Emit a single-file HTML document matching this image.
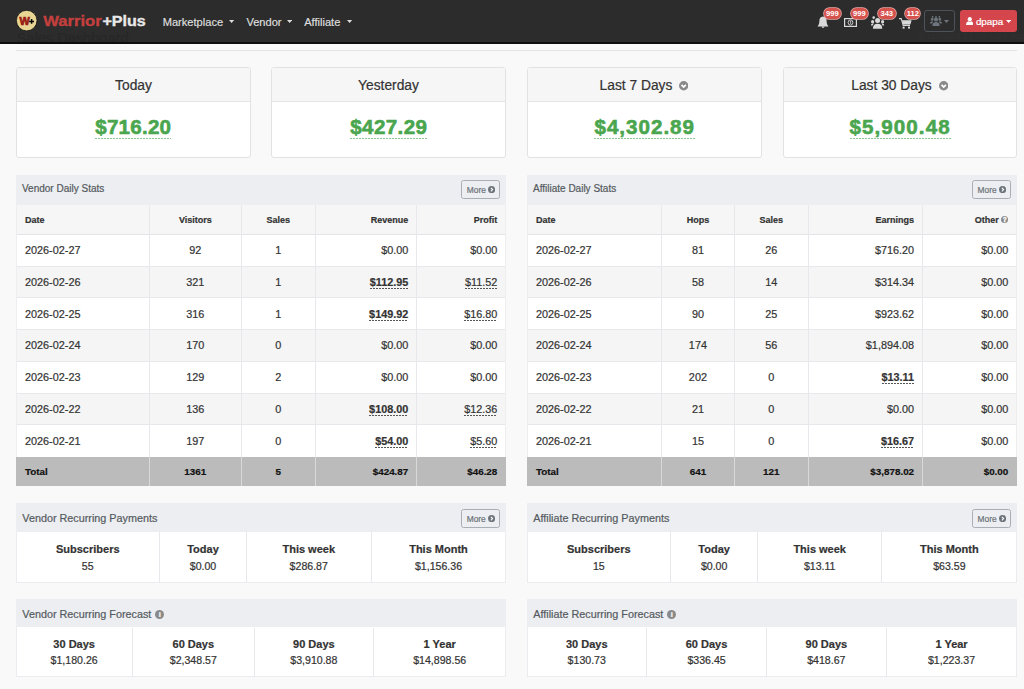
<!DOCTYPE html><html><head><meta charset="utf-8"><style>
*{margin:0;padding:0}
html,body{width:1024px;height:689px;overflow:hidden;background:#f9f9f9;-webkit-font-smoothing:antialiased;font-family:"Liberation Sans",sans-serif;position:relative}
.r{position:absolute;display:block}
.t{position:absolute;white-space:nowrap;-webkit-text-stroke:0.2px currentColor}
.amt{background:repeating-linear-gradient(90deg,#8cc78f 0 2px,transparent 2px 3px) left bottom/100% 1px no-repeat;padding-bottom:1.5px;-webkit-text-stroke:0.6px #4aa64e}
.u{background:repeating-linear-gradient(90deg,#555 0 2px,transparent 2px 3px) left bottom/100% 1px no-repeat;padding-bottom:1px}
.q{display:inline-block;width:7px;height:7px;border-radius:50%;background:#8a8a8a;vertical-align:0px;position:relative}
.q::after{content:"?";position:absolute;left:0;top:0.3px;width:7px;line-height:7px;font-size:6.5px;color:#fff;text-align:center;font-weight:700;-webkit-text-stroke:0.3px #fff}
.info{display:inline-block;width:9px;height:9px;border-radius:50%;background:#8a8a8a;vertical-align:-1px;position:relative;margin-left:1px}
.info::after{content:"i";position:absolute;left:0;top:0;width:9px;line-height:9px;font-size:7.5px;color:#fff;text-align:center;font-weight:700}
</style></head><body><div class="r" style="left:0.00px;top:0.00px;width:1024.00px;height:42.00px;background:#2c2c2c;"></div>
<div class="r" style="left:0.00px;top:42.00px;width:1024.00px;height:2.00px;background:#0e0e0e;"></div>
<div class="r" style="left:0;top:0;width:1024px;height:42px;overflow:hidden">
<div class="t" style="left:16.60px;top:30.64px;font-size:14.6px;line-height:14.6px;font-weight:400;color:#272727;">Sales Dashboard</div>
</div>
<svg class="r" style="left:14px;top:8px" width="26" height="26" viewBox="0 0 26 26"><circle cx="12.7" cy="12.6" r="10.3" fill="#e8d594" stroke="#111" stroke-width="0.8"/><text x="5.6" y="16.7" font-family="Liberation Sans" font-weight="700" font-size="10.6" fill="#9a1a14" stroke="#9a1a14" stroke-width="0.7" textLength="10.2" lengthAdjust="spacingAndGlyphs">W</text><path d="M15.2 13.4h4.8M17.6 11.1v4.7" stroke="#000" stroke-width="1.5"/></svg>
<svg class="r" style="left:43px;top:10px" width="106" height="20" viewBox="0 0 106 20"><text x="0.3" y="15.9" font-family="Liberation Sans" font-weight="700" font-size="14.6" fill="#c4403e" stroke="#c4403e" stroke-width="0.35" textLength="58.4" lengthAdjust="spacingAndGlyphs">Warrior</text><text x="59.4" y="15.9" font-family="Liberation Sans" font-weight="700" font-size="14.6" fill="#e8e8e8" stroke="#e8e8e8" stroke-width="0.35" textLength="43.4" lengthAdjust="spacingAndGlyphs">+Plus</text></svg>
<div class="t" style="left:162.70px;top:16.60px;font-size:11.1px;line-height:11.1px;font-weight:400;color:#dddddd;">Marketplace</div>
<svg class="r" style="left:229.40px;top:19.6px" width="5.2" height="3" viewBox="0 0 5.2 3"><path d="M0 0h5.2L2.6 3z" fill="#dddddd"/></svg>
<div class="t" style="left:246.40px;top:16.60px;font-size:11.1px;line-height:11.1px;font-weight:400;color:#dddddd;">Vendor</div>
<svg class="r" style="left:286.90px;top:19.6px" width="5.2" height="3" viewBox="0 0 5.2 3"><path d="M0 0h5.2L2.6 3z" fill="#dddddd"/></svg>
<div class="t" style="left:304.20px;top:16.60px;font-size:11.1px;line-height:11.1px;font-weight:400;color:#dddddd;">Affiliate</div>
<svg class="r" style="left:347.40px;top:19.6px" width="5.2" height="3" viewBox="0 0 5.2 3"><path d="M0 0h5.2L2.6 3z" fill="#dddddd"/></svg>
<svg class="r" style="left:817px;top:16px" width="12" height="13" viewBox="0 0 12 13"><path d="M6 0.5c-2.6 0-3.6 2.2-3.6 4.3 0 2.5-0.6 4-1.9 5.6h11c-1.3-1.6-1.9-3.1-1.9-5.6 0-2.1-1-4.3-3.6-4.3z" fill="#d9d9d9"/><path d="M4.6 10.6a1.4 1.4 0 0 0 2.8 0z" fill="#d9d9d9"/></svg>
<svg class="r" style="left:844px;top:18px" width="13" height="9" viewBox="0 0 13 9"><rect x="0" y="0" width="13" height="9" fill="#d9d9d9"/><rect x="1.2" y="1.2" width="10.6" height="6.6" fill="#2c2c2c"/><ellipse cx="6.5" cy="4.5" rx="2.4" ry="2.6" fill="none" stroke="#d9d9d9" stroke-width="0.9"/><path d="M5.8 3.6l0.9-0.6v3" stroke="#d9d9d9" stroke-width="0.8" fill="none"/></svg>
<svg class="r" style="left:871px;top:16px" width="14" height="13" viewBox="0 0 14 13"><g fill="#d9d9d9"><circle cx="2.7" cy="1.6" r="1.3"/><circle cx="1.6" cy="5.7" r="1.6"/><circle cx="11.6" cy="5.7" r="1.6"/><circle cx="6.6" cy="4.6" r="2.5"/><path d="M1.9 12.7c0-3.4 1.6-5 4.7-5s4.7 1.6 4.7 5z"/><path d="M0 9.6c0-1.5 0.5-2.2 1.6-2.2 0.6 0 1 0.2 1.3 0.4-0.6 0.5-1 1.1-1.2 1.8z M13.2 9.6c0-1.5-0.5-2.2-1.6-2.2-0.6 0-1 0.2-1.3 0.4 0.6 0.5 1 1.1 1.2 1.8z"/></g></svg>
<svg class="r" style="left:899px;top:17.5px" width="13" height="11" viewBox="0 0 13 11"><path d="M0 0.6h2.2l2 6.8h6.8" stroke="#d9d9d9" stroke-width="1.1" fill="none"/><path d="M3 2.2h9.6l-1.2 4.4h-7.2z" fill="#d9d9d9"/><rect x="3.6" y="8.6" width="2" height="2" fill="#d9d9d9"/><rect x="9" y="8.6" width="2" height="2" fill="#d9d9d9"/></svg>
<div class="r" style="left:823.80px;top:7.60px;width:17.00px;height:11.80px;background:#d6524d;border-radius:6px;box-shadow:0 0 0 0.8px #e6a9a6;"></div>
<div class="t" style="left:532.30px;width:600px;text-align:center;top:9.77px;font-size:7.6px;line-height:7.6px;font-weight:700;color:#ffffff;-webkit-text-stroke:0;">999</div>
<div class="r" style="left:850.90px;top:7.60px;width:17.10px;height:11.80px;background:#d6524d;border-radius:6px;box-shadow:0 0 0 0.8px #e6a9a6;"></div>
<div class="t" style="left:559.45px;width:600px;text-align:center;top:9.77px;font-size:7.6px;line-height:7.6px;font-weight:700;color:#ffffff;-webkit-text-stroke:0;">999</div>
<div class="r" style="left:878.00px;top:7.60px;width:17.50px;height:11.80px;background:#d6524d;border-radius:6px;box-shadow:0 0 0 0.8px #e6a9a6;"></div>
<div class="t" style="left:586.75px;width:600px;text-align:center;top:9.77px;font-size:7.6px;line-height:7.6px;font-weight:700;color:#ffffff;-webkit-text-stroke:0;">343</div>
<div class="r" style="left:905.30px;top:7.60px;width:15.10px;height:11.80px;background:#d6524d;border-radius:6px;box-shadow:0 0 0 0.8px #e6a9a6;"></div>
<div class="t" style="left:612.85px;width:600px;text-align:center;top:9.77px;font-size:7.6px;line-height:7.6px;font-weight:700;color:#ffffff;-webkit-text-stroke:0;">112</div>
<div class="t" style="left:917.00px;top:31.50px;font-size:9.1px;line-height:9.1px;font-weight:400;color:#313131;">&#9719; updated 15 minutes ago</div>
<div class="r" style="left:924.40px;top:10.30px;width:30.50px;height:21.40px;background:transparent;border:1px solid #4d535a;border-radius:3px;box-sizing:border-box;"></div>
<svg class="r" style="left:930px;top:16px" width="12" height="10" viewBox="0 0 12 10"><g fill="#6e757c"><circle cx="6" cy="3.6" r="2"/><circle cx="2.2" cy="3.4" r="1.4"/><circle cx="9.8" cy="3.4" r="1.4"/><circle cx="2.6" cy="0.9" r="0.9"/><circle cx="6" cy="0.9" r="0.9"/><circle cx="9.4" cy="0.9" r="0.9"/><path d="M2.4 10c0-2.6 1.2-4 3.6-4s3.6 1.4 3.6 4z"/><path d="M0 7.6c0-1.4 0.8-2 2-2 0.6 0 1 0.1 1.3 0.3-0.7 0.5-1 1.1-1.2 1.7zM12 7.6c0-1.4-0.8-2-2-2-0.6 0-1 0.1-1.3 0.3 0.7 0.5 1 1.1 1.2 1.7z"/></g></svg>
<svg class="r" style="left:943.6px;top:19.6px" width="5" height="3" viewBox="0 0 5 3"><path d="M0 0h5L2.5 3z" fill="#6e757c"/></svg>
<div class="r" style="left:960.20px;top:10.30px;width:57.00px;height:21.40px;background:#d5454c;border-radius:3px;"></div>
<svg class="r" style="left:965.9px;top:16.8px" width="7.6" height="8.6" viewBox="0 0 7.6 8.6"><circle cx="3.8" cy="2.2" r="2.1" fill="#fff"/><path d="M0 8.6c0-2.6 1-4 2.4-4.3 0.4 0.3 0.9 0.5 1.4 0.5s1-0.2 1.4-0.5c1.4 0.3 2.4 1.7 2.4 4.3z" fill="#fff"/></svg>
<div class="t" style="left:975.90px;top:16.60px;font-size:9.8px;line-height:9.8px;font-weight:400;color:#ffffff;">dpapa</div>
<svg class="r" style="left:1006px;top:19.8px" width="5.2" height="3" viewBox="0 0 5.2 3"><path d="M0 0h5.2L2.6 3z" fill="#fff"/></svg>
<div class="r" style="left:16.00px;top:50.00px;width:1001.00px;height:1.00px;background:#e4e4e4;"></div>
<div class="r" style="left:16.00px;top:67.00px;width:235.00px;height:91.00px;background:#ffffff;border:1px solid #e2e2e2;border-radius:3px;box-sizing:border-box;overflow:hidden;"></div>
<div class="r" style="left:17.00px;top:68.00px;width:233.00px;height:33.00px;background:#f6f6f6;border-radius:2px 2px 0 0;"></div>
<div class="r" style="left:17.00px;top:101.00px;width:233.00px;height:1.00px;background:#e4e4e4;"></div>
<div class="t" style="left:-166.50px;width:600px;text-align:center;top:78.82px;font-size:13.8px;line-height:13.8px;font-weight:400;color:#333333;">Today</div>
<div class="t" style="left:-166.73px;width:600px;text-align:center;top:116.76px;font-size:20.6px;line-height:20.6px;font-weight:700;color:#4aa64e;"><span class="amt" style="letter-spacing:0.23px">$716.20</span></div>
<div class="r" style="left:271.00px;top:67.00px;width:235.00px;height:91.00px;background:#ffffff;border:1px solid #e2e2e2;border-radius:3px;box-sizing:border-box;overflow:hidden;"></div>
<div class="r" style="left:272.00px;top:68.00px;width:233.00px;height:33.00px;background:#f6f6f6;border-radius:2px 2px 0 0;"></div>
<div class="r" style="left:272.00px;top:101.00px;width:233.00px;height:1.00px;background:#e4e4e4;"></div>
<div class="t" style="left:88.50px;width:600px;text-align:center;top:78.82px;font-size:13.8px;line-height:13.8px;font-weight:400;color:#333333;">Yesterday</div>
<div class="t" style="left:88.79px;width:600px;text-align:center;top:116.76px;font-size:20.6px;line-height:20.6px;font-weight:700;color:#4aa64e;"><span class="amt" style="letter-spacing:0.38px">$427.29</span></div>
<div class="r" style="left:527.00px;top:67.00px;width:235.00px;height:91.00px;background:#ffffff;border:1px solid #e2e2e2;border-radius:3px;box-sizing:border-box;overflow:hidden;"></div>
<div class="r" style="left:528.00px;top:68.00px;width:233.00px;height:33.00px;background:#f6f6f6;border-radius:2px 2px 0 0;"></div>
<div class="r" style="left:528.00px;top:101.00px;width:233.00px;height:1.00px;background:#e4e4e4;"></div>
<div class="t" style="left:336.00px;width:600px;text-align:center;top:78.82px;font-size:13.8px;line-height:13.8px;font-weight:400;color:#333333;">Last 7 Days</div>
<div class="t" style="left:344.75px;width:600px;text-align:center;top:116.76px;font-size:20.6px;line-height:20.6px;font-weight:700;color:#4aa64e;"><span class="amt" style="letter-spacing:0.99px">$4,302.89</span></div>
<div class="r" style="left:783.00px;top:67.00px;width:234.00px;height:91.00px;background:#ffffff;border:1px solid #e2e2e2;border-radius:3px;box-sizing:border-box;overflow:hidden;"></div>
<div class="r" style="left:784.00px;top:68.00px;width:232.00px;height:33.00px;background:#f6f6f6;border-radius:2px 2px 0 0;"></div>
<div class="r" style="left:784.00px;top:101.00px;width:232.00px;height:1.00px;background:#e4e4e4;"></div>
<div class="t" style="left:591.50px;width:600px;text-align:center;top:78.82px;font-size:13.8px;line-height:13.8px;font-weight:400;color:#333333;">Last 30 Days</div>
<div class="t" style="left:600.08px;width:600px;text-align:center;top:116.76px;font-size:20.6px;line-height:20.6px;font-weight:700;color:#4aa64e;"><span class="amt" style="letter-spacing:1.06px">$5,900.48</span></div>
<svg class="r" style="left:678.60px;top:81.3px" width="9.4" height="9.4" viewBox="0 0 10 10"><circle cx="5" cy="5" r="5" fill="#8a8a8a"/><path d="M2.7 4.2L5 6.5 7.3 4.2" stroke="#fff" stroke-width="1.8" fill="none"/></svg>
<svg class="r" style="left:938.60px;top:81.3px" width="9.4" height="9.4" viewBox="0 0 10 10"><circle cx="5" cy="5" r="5" fill="#8a8a8a"/><path d="M2.7 4.2L5 6.5 7.3 4.2" stroke="#fff" stroke-width="1.8" fill="none"/></svg>
<div class="r" style="left:16.00px;top:175.00px;width:489.50px;height:311.20px;background:#ffffff;"></div>
<div class="r" style="left:16.00px;top:175.00px;width:489.50px;height:29.50px;background:#eceef1;"></div>
<div class="t" style="left:22.00px;top:184.44px;font-size:10px;line-height:10px;font-weight:400;color:#555a60;">Vendor Daily Stats</div>
<div class="r" style="left:461.40px;top:180.40px;width:38.60px;height:18.30px;background:transparent;border:1px solid #a9aeb4;border-radius:2.5px;box-sizing:border-box;"></div>
<div class="t" style="left:466.80px;top:185.69px;font-size:8.4px;line-height:8.4px;font-weight:400;color:#6c737a;">More</div>
<svg class="r" style="left:488.30px;top:186.00px" width="7.2" height="7.2" viewBox="0 0 10 10"><circle cx="5" cy="5" r="5" fill="#6c737a"/><path d="M4 2.6L6.4 5 4 7.4" stroke="#fff" stroke-width="1.6" fill="none"/></svg>
<div class="r" style="left:16.00px;top:204.50px;width:489.50px;height:30.00px;background:#f6f6f6;"></div>
<div class="r" style="left:16.00px;top:233.70px;width:489.50px;height:1.00px;background:#e2e4e7;"></div>
<div class="r" style="left:16.00px;top:266.22px;width:489.50px;height:31.72px;background:#f5f5f5;"></div>
<div class="r" style="left:16.00px;top:265.72px;width:489.50px;height:1.00px;background:#e6e8eb;"></div>
<div class="r" style="left:16.00px;top:297.44px;width:489.50px;height:1.00px;background:#e6e8eb;"></div>
<div class="r" style="left:16.00px;top:329.66px;width:489.50px;height:31.72px;background:#f5f5f5;"></div>
<div class="r" style="left:16.00px;top:329.16px;width:489.50px;height:1.00px;background:#e6e8eb;"></div>
<div class="r" style="left:16.00px;top:360.88px;width:489.50px;height:1.00px;background:#e6e8eb;"></div>
<div class="r" style="left:16.00px;top:393.10px;width:489.50px;height:31.72px;background:#f5f5f5;"></div>
<div class="r" style="left:16.00px;top:392.60px;width:489.50px;height:1.00px;background:#e6e8eb;"></div>
<div class="r" style="left:16.00px;top:424.32px;width:489.50px;height:1.00px;background:#e6e8eb;"></div>
<div class="r" style="left:16.00px;top:456.54px;width:489.50px;height:29.66px;background:#bbbbbb;"></div>
<div class="r" style="left:16.00px;top:204.50px;width:489.50px;height:252.04px;background:transparent;border:1px solid #eceef0;border-top:0;border-bottom:0;box-sizing:border-box;"></div>
<div class="r" style="left:148.80px;top:204.50px;width:1.00px;height:252.04px;background:#e6e8eb;"></div>
<div class="r" style="left:148.80px;top:456.54px;width:1.00px;height:29.66px;background:#d9d9d9;"></div>
<div class="r" style="left:240.80px;top:204.50px;width:1.00px;height:252.04px;background:#e6e8eb;"></div>
<div class="r" style="left:240.80px;top:456.54px;width:1.00px;height:29.66px;background:#d9d9d9;"></div>
<div class="r" style="left:314.70px;top:204.50px;width:1.00px;height:252.04px;background:#e6e8eb;"></div>
<div class="r" style="left:314.70px;top:456.54px;width:1.00px;height:29.66px;background:#d9d9d9;"></div>
<div class="r" style="left:416.00px;top:204.50px;width:1.00px;height:252.04px;background:#e6e8eb;"></div>
<div class="r" style="left:416.00px;top:456.54px;width:1.00px;height:29.66px;background:#d9d9d9;"></div>
<div class="t" style="left:25.00px;top:215.68px;font-size:9px;line-height:9px;font-weight:700;color:#333333;">Date</div>
<div class="t" style="left:-104.70px;width:600px;text-align:center;top:215.68px;font-size:9px;line-height:9px;font-weight:700;color:#333333;">Visitors</div>
<div class="t" style="left:-21.75px;width:600px;text-align:center;top:215.68px;font-size:9px;line-height:9px;font-weight:700;color:#333333;">Sales</div>
<div class="t" style="left:-191.70px;width:600px;text-align:right;top:215.68px;font-size:9px;line-height:9px;font-weight:700;color:#333333;">Revenue</div>
<div class="t" style="left:-102.70px;width:600px;text-align:right;top:215.68px;font-size:9px;line-height:9px;font-weight:700;color:#333333;">Profit</div>
<div class="t" style="left:25.00px;top:245.32px;font-size:10.85px;line-height:10.85px;font-weight:400;color:#333333;">2026-02-27</div>
<div class="t" style="left:-104.70px;width:600px;text-align:center;top:245.32px;font-size:10.85px;line-height:10.85px;font-weight:400;color:#333333;">92</div>
<div class="t" style="left:-21.75px;width:600px;text-align:center;top:245.32px;font-size:10.85px;line-height:10.85px;font-weight:400;color:#333333;">1</div>
<div class="t" style="left:-191.70px;width:600px;text-align:right;top:245.32px;font-size:10.85px;line-height:10.85px;font-weight:400;color:#333333;">$0.00</div>
<div class="t" style="left:-102.70px;width:600px;text-align:right;top:245.32px;font-size:10.85px;line-height:10.85px;font-weight:400;color:#333333;">$0.00</div>
<div class="t" style="left:25.00px;top:277.04px;font-size:10.85px;line-height:10.85px;font-weight:400;color:#333333;">2026-02-26</div>
<div class="t" style="left:-104.70px;width:600px;text-align:center;top:277.04px;font-size:10.85px;line-height:10.85px;font-weight:400;color:#333333;">321</div>
<div class="t" style="left:-21.75px;width:600px;text-align:center;top:277.04px;font-size:10.85px;line-height:10.85px;font-weight:400;color:#333333;">1</div>
<div class="t" style="left:-191.70px;width:600px;text-align:right;top:277.04px;font-size:10.85px;line-height:10.85px;font-weight:400;color:#333333;"><span class="u" style="font-weight:700">$112.95</span></div>
<div class="t" style="left:-102.70px;width:600px;text-align:right;top:277.04px;font-size:10.85px;line-height:10.85px;font-weight:400;color:#333333;"><span class="u">$11.52</span></div>
<div class="t" style="left:25.00px;top:308.76px;font-size:10.85px;line-height:10.85px;font-weight:400;color:#333333;">2026-02-25</div>
<div class="t" style="left:-104.70px;width:600px;text-align:center;top:308.76px;font-size:10.85px;line-height:10.85px;font-weight:400;color:#333333;">316</div>
<div class="t" style="left:-21.75px;width:600px;text-align:center;top:308.76px;font-size:10.85px;line-height:10.85px;font-weight:400;color:#333333;">1</div>
<div class="t" style="left:-191.70px;width:600px;text-align:right;top:308.76px;font-size:10.85px;line-height:10.85px;font-weight:400;color:#333333;"><span class="u" style="font-weight:700">$149.92</span></div>
<div class="t" style="left:-102.70px;width:600px;text-align:right;top:308.76px;font-size:10.85px;line-height:10.85px;font-weight:400;color:#333333;"><span class="u">$16.80</span></div>
<div class="t" style="left:25.00px;top:340.48px;font-size:10.85px;line-height:10.85px;font-weight:400;color:#333333;">2026-02-24</div>
<div class="t" style="left:-104.70px;width:600px;text-align:center;top:340.48px;font-size:10.85px;line-height:10.85px;font-weight:400;color:#333333;">170</div>
<div class="t" style="left:-21.75px;width:600px;text-align:center;top:340.48px;font-size:10.85px;line-height:10.85px;font-weight:400;color:#333333;">0</div>
<div class="t" style="left:-191.70px;width:600px;text-align:right;top:340.48px;font-size:10.85px;line-height:10.85px;font-weight:400;color:#333333;">$0.00</div>
<div class="t" style="left:-102.70px;width:600px;text-align:right;top:340.48px;font-size:10.85px;line-height:10.85px;font-weight:400;color:#333333;">$0.00</div>
<div class="t" style="left:25.00px;top:372.20px;font-size:10.85px;line-height:10.85px;font-weight:400;color:#333333;">2026-02-23</div>
<div class="t" style="left:-104.70px;width:600px;text-align:center;top:372.20px;font-size:10.85px;line-height:10.85px;font-weight:400;color:#333333;">129</div>
<div class="t" style="left:-21.75px;width:600px;text-align:center;top:372.20px;font-size:10.85px;line-height:10.85px;font-weight:400;color:#333333;">2</div>
<div class="t" style="left:-191.70px;width:600px;text-align:right;top:372.20px;font-size:10.85px;line-height:10.85px;font-weight:400;color:#333333;">$0.00</div>
<div class="t" style="left:-102.70px;width:600px;text-align:right;top:372.20px;font-size:10.85px;line-height:10.85px;font-weight:400;color:#333333;">$0.00</div>
<div class="t" style="left:25.00px;top:403.92px;font-size:10.85px;line-height:10.85px;font-weight:400;color:#333333;">2026-02-22</div>
<div class="t" style="left:-104.70px;width:600px;text-align:center;top:403.92px;font-size:10.85px;line-height:10.85px;font-weight:400;color:#333333;">136</div>
<div class="t" style="left:-21.75px;width:600px;text-align:center;top:403.92px;font-size:10.85px;line-height:10.85px;font-weight:400;color:#333333;">0</div>
<div class="t" style="left:-191.70px;width:600px;text-align:right;top:403.92px;font-size:10.85px;line-height:10.85px;font-weight:400;color:#333333;"><span class="u" style="font-weight:700">$108.00</span></div>
<div class="t" style="left:-102.70px;width:600px;text-align:right;top:403.92px;font-size:10.85px;line-height:10.85px;font-weight:400;color:#333333;"><span class="u">$12.36</span></div>
<div class="t" style="left:25.00px;top:435.64px;font-size:10.85px;line-height:10.85px;font-weight:400;color:#333333;">2026-02-21</div>
<div class="t" style="left:-104.70px;width:600px;text-align:center;top:435.64px;font-size:10.85px;line-height:10.85px;font-weight:400;color:#333333;">197</div>
<div class="t" style="left:-21.75px;width:600px;text-align:center;top:435.64px;font-size:10.85px;line-height:10.85px;font-weight:400;color:#333333;">0</div>
<div class="t" style="left:-191.70px;width:600px;text-align:right;top:435.64px;font-size:10.85px;line-height:10.85px;font-weight:400;color:#333333;"><span class="u" style="font-weight:700">$54.00</span></div>
<div class="t" style="left:-102.70px;width:600px;text-align:right;top:435.64px;font-size:10.85px;line-height:10.85px;font-weight:400;color:#333333;"><span class="u">$5.60</span></div>
<div class="t" style="left:25.00px;top:466.86px;font-size:9.85px;line-height:9.85px;font-weight:700;color:#111111;">Total</div>
<div class="t" style="left:-104.70px;width:600px;text-align:center;top:466.86px;font-size:9.85px;line-height:9.85px;font-weight:700;color:#111111;">1361</div>
<div class="t" style="left:-21.75px;width:600px;text-align:center;top:466.86px;font-size:9.85px;line-height:9.85px;font-weight:700;color:#111111;">5</div>
<div class="t" style="left:-191.70px;width:600px;text-align:right;top:466.86px;font-size:9.85px;line-height:9.85px;font-weight:700;color:#111111;">$424.87</div>
<div class="t" style="left:-102.70px;width:600px;text-align:right;top:466.86px;font-size:9.85px;line-height:9.85px;font-weight:700;color:#111111;">$46.28</div>
<div class="r" style="left:527.00px;top:175.00px;width:489.50px;height:311.20px;background:#ffffff;"></div>
<div class="r" style="left:527.00px;top:175.00px;width:489.50px;height:29.50px;background:#eceef1;"></div>
<div class="t" style="left:533.00px;top:184.44px;font-size:10px;line-height:10px;font-weight:400;color:#555a60;">Affiliate Daily Stats</div>
<div class="r" style="left:972.20px;top:180.40px;width:38.60px;height:18.30px;background:transparent;border:1px solid #a9aeb4;border-radius:2.5px;box-sizing:border-box;"></div>
<div class="t" style="left:977.60px;top:185.69px;font-size:8.4px;line-height:8.4px;font-weight:400;color:#6c737a;">More</div>
<svg class="r" style="left:999.10px;top:186.00px" width="7.2" height="7.2" viewBox="0 0 10 10"><circle cx="5" cy="5" r="5" fill="#6c737a"/><path d="M4 2.6L6.4 5 4 7.4" stroke="#fff" stroke-width="1.6" fill="none"/></svg>
<div class="r" style="left:527.00px;top:204.50px;width:489.50px;height:30.00px;background:#f6f6f6;"></div>
<div class="r" style="left:527.00px;top:233.70px;width:489.50px;height:1.00px;background:#e2e4e7;"></div>
<div class="r" style="left:527.00px;top:266.22px;width:489.50px;height:31.72px;background:#f5f5f5;"></div>
<div class="r" style="left:527.00px;top:265.72px;width:489.50px;height:1.00px;background:#e6e8eb;"></div>
<div class="r" style="left:527.00px;top:297.44px;width:489.50px;height:1.00px;background:#e6e8eb;"></div>
<div class="r" style="left:527.00px;top:329.66px;width:489.50px;height:31.72px;background:#f5f5f5;"></div>
<div class="r" style="left:527.00px;top:329.16px;width:489.50px;height:1.00px;background:#e6e8eb;"></div>
<div class="r" style="left:527.00px;top:360.88px;width:489.50px;height:1.00px;background:#e6e8eb;"></div>
<div class="r" style="left:527.00px;top:393.10px;width:489.50px;height:31.72px;background:#f5f5f5;"></div>
<div class="r" style="left:527.00px;top:392.60px;width:489.50px;height:1.00px;background:#e6e8eb;"></div>
<div class="r" style="left:527.00px;top:424.32px;width:489.50px;height:1.00px;background:#e6e8eb;"></div>
<div class="r" style="left:527.00px;top:456.54px;width:489.50px;height:29.66px;background:#bbbbbb;"></div>
<div class="r" style="left:527.00px;top:204.50px;width:489.50px;height:252.04px;background:transparent;border:1px solid #eceef0;border-top:0;border-bottom:0;box-sizing:border-box;"></div>
<div class="r" style="left:661.25px;top:204.50px;width:1.00px;height:252.04px;background:#e6e8eb;"></div>
<div class="r" style="left:661.25px;top:456.54px;width:1.00px;height:29.66px;background:#d9d9d9;"></div>
<div class="r" style="left:733.60px;top:204.50px;width:1.00px;height:252.04px;background:#e6e8eb;"></div>
<div class="r" style="left:733.60px;top:456.54px;width:1.00px;height:29.66px;background:#d9d9d9;"></div>
<div class="r" style="left:807.90px;top:204.50px;width:1.00px;height:252.04px;background:#e6e8eb;"></div>
<div class="r" style="left:807.90px;top:456.54px;width:1.00px;height:29.66px;background:#d9d9d9;"></div>
<div class="r" style="left:921.80px;top:204.50px;width:1.00px;height:252.04px;background:#e6e8eb;"></div>
<div class="r" style="left:921.80px;top:456.54px;width:1.00px;height:29.66px;background:#d9d9d9;"></div>
<div class="t" style="left:536.00px;top:215.68px;font-size:9px;line-height:9px;font-weight:700;color:#333333;">Date</div>
<div class="t" style="left:397.92px;width:600px;text-align:center;top:215.68px;font-size:9px;line-height:9px;font-weight:700;color:#333333;">Hops</div>
<div class="t" style="left:471.25px;width:600px;text-align:center;top:215.68px;font-size:9px;line-height:9px;font-weight:700;color:#333333;">Sales</div>
<div class="t" style="left:314.10px;width:600px;text-align:right;top:215.68px;font-size:9px;line-height:9px;font-weight:700;color:#333333;">Earnings</div>
<div class="t" style="left:408.30px;width:600px;text-align:right;top:215.68px;font-size:9px;line-height:9px;font-weight:700;color:#333333;">Other <span class="q"></span></div>
<div class="t" style="left:536.00px;top:245.32px;font-size:10.85px;line-height:10.85px;font-weight:400;color:#333333;">2026-02-27</div>
<div class="t" style="left:397.92px;width:600px;text-align:center;top:245.32px;font-size:10.85px;line-height:10.85px;font-weight:400;color:#333333;">81</div>
<div class="t" style="left:471.25px;width:600px;text-align:center;top:245.32px;font-size:10.85px;line-height:10.85px;font-weight:400;color:#333333;">26</div>
<div class="t" style="left:314.10px;width:600px;text-align:right;top:245.32px;font-size:10.85px;line-height:10.85px;font-weight:400;color:#333333;">$716.20</div>
<div class="t" style="left:408.30px;width:600px;text-align:right;top:245.32px;font-size:10.85px;line-height:10.85px;font-weight:400;color:#333333;">$0.00</div>
<div class="t" style="left:536.00px;top:277.04px;font-size:10.85px;line-height:10.85px;font-weight:400;color:#333333;">2026-02-26</div>
<div class="t" style="left:397.92px;width:600px;text-align:center;top:277.04px;font-size:10.85px;line-height:10.85px;font-weight:400;color:#333333;">58</div>
<div class="t" style="left:471.25px;width:600px;text-align:center;top:277.04px;font-size:10.85px;line-height:10.85px;font-weight:400;color:#333333;">14</div>
<div class="t" style="left:314.10px;width:600px;text-align:right;top:277.04px;font-size:10.85px;line-height:10.85px;font-weight:400;color:#333333;">$314.34</div>
<div class="t" style="left:408.30px;width:600px;text-align:right;top:277.04px;font-size:10.85px;line-height:10.85px;font-weight:400;color:#333333;">$0.00</div>
<div class="t" style="left:536.00px;top:308.76px;font-size:10.85px;line-height:10.85px;font-weight:400;color:#333333;">2026-02-25</div>
<div class="t" style="left:397.92px;width:600px;text-align:center;top:308.76px;font-size:10.85px;line-height:10.85px;font-weight:400;color:#333333;">90</div>
<div class="t" style="left:471.25px;width:600px;text-align:center;top:308.76px;font-size:10.85px;line-height:10.85px;font-weight:400;color:#333333;">25</div>
<div class="t" style="left:314.10px;width:600px;text-align:right;top:308.76px;font-size:10.85px;line-height:10.85px;font-weight:400;color:#333333;">$923.62</div>
<div class="t" style="left:408.30px;width:600px;text-align:right;top:308.76px;font-size:10.85px;line-height:10.85px;font-weight:400;color:#333333;">$0.00</div>
<div class="t" style="left:536.00px;top:340.48px;font-size:10.85px;line-height:10.85px;font-weight:400;color:#333333;">2026-02-24</div>
<div class="t" style="left:397.92px;width:600px;text-align:center;top:340.48px;font-size:10.85px;line-height:10.85px;font-weight:400;color:#333333;">174</div>
<div class="t" style="left:471.25px;width:600px;text-align:center;top:340.48px;font-size:10.85px;line-height:10.85px;font-weight:400;color:#333333;">56</div>
<div class="t" style="left:314.10px;width:600px;text-align:right;top:340.48px;font-size:10.85px;line-height:10.85px;font-weight:400;color:#333333;">$1,894.08</div>
<div class="t" style="left:408.30px;width:600px;text-align:right;top:340.48px;font-size:10.85px;line-height:10.85px;font-weight:400;color:#333333;">$0.00</div>
<div class="t" style="left:536.00px;top:372.20px;font-size:10.85px;line-height:10.85px;font-weight:400;color:#333333;">2026-02-23</div>
<div class="t" style="left:397.92px;width:600px;text-align:center;top:372.20px;font-size:10.85px;line-height:10.85px;font-weight:400;color:#333333;">202</div>
<div class="t" style="left:471.25px;width:600px;text-align:center;top:372.20px;font-size:10.85px;line-height:10.85px;font-weight:400;color:#333333;">0</div>
<div class="t" style="left:314.10px;width:600px;text-align:right;top:372.20px;font-size:10.85px;line-height:10.85px;font-weight:400;color:#333333;"><span class="u" style="font-weight:700">$13.11</span></div>
<div class="t" style="left:408.30px;width:600px;text-align:right;top:372.20px;font-size:10.85px;line-height:10.85px;font-weight:400;color:#333333;">$0.00</div>
<div class="t" style="left:536.00px;top:403.92px;font-size:10.85px;line-height:10.85px;font-weight:400;color:#333333;">2026-02-22</div>
<div class="t" style="left:397.92px;width:600px;text-align:center;top:403.92px;font-size:10.85px;line-height:10.85px;font-weight:400;color:#333333;">21</div>
<div class="t" style="left:471.25px;width:600px;text-align:center;top:403.92px;font-size:10.85px;line-height:10.85px;font-weight:400;color:#333333;">0</div>
<div class="t" style="left:314.10px;width:600px;text-align:right;top:403.92px;font-size:10.85px;line-height:10.85px;font-weight:400;color:#333333;">$0.00</div>
<div class="t" style="left:408.30px;width:600px;text-align:right;top:403.92px;font-size:10.85px;line-height:10.85px;font-weight:400;color:#333333;">$0.00</div>
<div class="t" style="left:536.00px;top:435.64px;font-size:10.85px;line-height:10.85px;font-weight:400;color:#333333;">2026-02-21</div>
<div class="t" style="left:397.92px;width:600px;text-align:center;top:435.64px;font-size:10.85px;line-height:10.85px;font-weight:400;color:#333333;">15</div>
<div class="t" style="left:471.25px;width:600px;text-align:center;top:435.64px;font-size:10.85px;line-height:10.85px;font-weight:400;color:#333333;">0</div>
<div class="t" style="left:314.10px;width:600px;text-align:right;top:435.64px;font-size:10.85px;line-height:10.85px;font-weight:400;color:#333333;"><span class="u" style="font-weight:700">$16.67</span></div>
<div class="t" style="left:408.30px;width:600px;text-align:right;top:435.64px;font-size:10.85px;line-height:10.85px;font-weight:400;color:#333333;">$0.00</div>
<div class="t" style="left:536.00px;top:466.86px;font-size:9.85px;line-height:9.85px;font-weight:700;color:#111111;">Total</div>
<div class="t" style="left:397.92px;width:600px;text-align:center;top:466.86px;font-size:9.85px;line-height:9.85px;font-weight:700;color:#111111;">641</div>
<div class="t" style="left:471.25px;width:600px;text-align:center;top:466.86px;font-size:9.85px;line-height:9.85px;font-weight:700;color:#111111;">121</div>
<div class="t" style="left:314.10px;width:600px;text-align:right;top:466.86px;font-size:9.85px;line-height:9.85px;font-weight:700;color:#111111;">$3,878.02</div>
<div class="t" style="left:408.30px;width:600px;text-align:right;top:466.86px;font-size:9.85px;line-height:9.85px;font-weight:700;color:#111111;">$0.00</div>
<div class="r" style="left:16.00px;top:503.00px;width:490.00px;height:79.60px;background:#ffffff;border:1px solid #eaecef;box-sizing:border-box;"></div>
<div class="r" style="left:16.00px;top:503.00px;width:490.00px;height:29.40px;background:#eceef1;"></div>
<div class="t" style="left:22.30px;top:512.76px;font-size:10.8px;line-height:10.8px;font-weight:400;color:#555a60;">Vendor Recurring Payments</div>
<div class="r" style="left:461.30px;top:509.30px;width:38.60px;height:18.30px;background:transparent;border:1px solid #a9aeb4;border-radius:2.5px;box-sizing:border-box;"></div>
<div class="t" style="left:466.70px;top:514.59px;font-size:8.4px;line-height:8.4px;font-weight:400;color:#6c737a;">More</div>
<svg class="r" style="left:488.20px;top:514.90px" width="7.2" height="7.2" viewBox="0 0 10 10"><circle cx="5" cy="5" r="5" fill="#6c737a"/><path d="M4 2.6L6.4 5 4 7.4" stroke="#fff" stroke-width="1.6" fill="none"/></svg>
<div class="r" style="left:159.00px;top:532.40px;width:1.00px;height:49.20px;background:#e6e8eb;"></div>
<div class="r" style="left:246.00px;top:532.40px;width:1.00px;height:49.20px;background:#e6e8eb;"></div>
<div class="r" style="left:370.50px;top:532.40px;width:1.00px;height:49.20px;background:#e6e8eb;"></div>
<div class="t" style="left:-212.25px;width:600px;text-align:center;top:544.29px;font-size:11px;line-height:11px;font-weight:700;color:#333333;">Subscribers</div>
<div class="t" style="left:-212.25px;width:600px;text-align:center;top:560.73px;font-size:10.6px;line-height:10.6px;font-weight:400;color:#333333;">55</div>
<div class="t" style="left:-97.00px;width:600px;text-align:center;top:544.29px;font-size:11px;line-height:11px;font-weight:700;color:#333333;">Today</div>
<div class="t" style="left:-97.00px;width:600px;text-align:center;top:560.73px;font-size:10.6px;line-height:10.6px;font-weight:400;color:#333333;">$0.00</div>
<div class="t" style="left:8.75px;width:600px;text-align:center;top:544.29px;font-size:11px;line-height:11px;font-weight:700;color:#333333;">This week</div>
<div class="t" style="left:8.75px;width:600px;text-align:center;top:560.73px;font-size:10.6px;line-height:10.6px;font-weight:400;color:#333333;">$286.87</div>
<div class="t" style="left:138.50px;width:600px;text-align:center;top:544.29px;font-size:11px;line-height:11px;font-weight:700;color:#333333;">This Month</div>
<div class="t" style="left:138.50px;width:600px;text-align:center;top:560.73px;font-size:10.6px;line-height:10.6px;font-weight:400;color:#333333;">$1,156.36</div>
<div class="r" style="left:527.00px;top:503.00px;width:490.00px;height:79.60px;background:#ffffff;border:1px solid #eaecef;box-sizing:border-box;"></div>
<div class="r" style="left:527.00px;top:503.00px;width:490.00px;height:29.40px;background:#eceef1;"></div>
<div class="t" style="left:533.30px;top:512.76px;font-size:10.8px;line-height:10.8px;font-weight:400;color:#555a60;">Affiliate Recurring Payments</div>
<div class="r" style="left:972.20px;top:509.30px;width:38.60px;height:18.30px;background:transparent;border:1px solid #a9aeb4;border-radius:2.5px;box-sizing:border-box;"></div>
<div class="t" style="left:977.60px;top:514.59px;font-size:8.4px;line-height:8.4px;font-weight:400;color:#6c737a;">More</div>
<svg class="r" style="left:999.10px;top:514.90px" width="7.2" height="7.2" viewBox="0 0 10 10"><circle cx="5" cy="5" r="5" fill="#6c737a"/><path d="M4 2.6L6.4 5 4 7.4" stroke="#fff" stroke-width="1.6" fill="none"/></svg>
<div class="r" style="left:670.10px;top:532.40px;width:1.00px;height:49.20px;background:#e6e8eb;"></div>
<div class="r" style="left:757.20px;top:532.40px;width:1.00px;height:49.20px;background:#e6e8eb;"></div>
<div class="r" style="left:881.20px;top:532.40px;width:1.00px;height:49.20px;background:#e6e8eb;"></div>
<div class="t" style="left:298.80px;width:600px;text-align:center;top:544.29px;font-size:11px;line-height:11px;font-weight:700;color:#333333;">Subscribers</div>
<div class="t" style="left:298.80px;width:600px;text-align:center;top:560.73px;font-size:10.6px;line-height:10.6px;font-weight:400;color:#333333;">15</div>
<div class="t" style="left:414.15px;width:600px;text-align:center;top:544.29px;font-size:11px;line-height:11px;font-weight:700;color:#333333;">Today</div>
<div class="t" style="left:414.15px;width:600px;text-align:center;top:560.73px;font-size:10.6px;line-height:10.6px;font-weight:400;color:#333333;">$0.00</div>
<div class="t" style="left:519.70px;width:600px;text-align:center;top:544.29px;font-size:11px;line-height:11px;font-weight:700;color:#333333;">This week</div>
<div class="t" style="left:519.70px;width:600px;text-align:center;top:560.73px;font-size:10.6px;line-height:10.6px;font-weight:400;color:#333333;">$13.11</div>
<div class="t" style="left:649.35px;width:600px;text-align:center;top:544.29px;font-size:11px;line-height:11px;font-weight:700;color:#333333;">This Month</div>
<div class="t" style="left:649.35px;width:600px;text-align:center;top:560.73px;font-size:10.6px;line-height:10.6px;font-weight:400;color:#333333;">$63.59</div>
<div class="r" style="left:16.00px;top:598.70px;width:490.00px;height:78.30px;background:#ffffff;border:1px solid #eaecef;box-sizing:border-box;"></div>
<div class="r" style="left:16.00px;top:598.70px;width:490.00px;height:28.80px;background:#eceef1;"></div>
<div class="t" style="left:22.30px;top:608.96px;font-size:10.8px;line-height:10.8px;font-weight:400;color:#555a60;">Vendor Recurring Forecast <span class="info"></span></div>
<div class="r" style="left:131.80px;top:627.50px;width:1.00px;height:48.50px;background:#e6e8eb;"></div>
<div class="r" style="left:253.80px;top:627.50px;width:1.00px;height:48.50px;background:#e6e8eb;"></div>
<div class="r" style="left:372.90px;top:627.50px;width:1.00px;height:48.50px;background:#e6e8eb;"></div>
<div class="t" style="left:-225.85px;width:600px;text-align:center;top:638.79px;font-size:11px;line-height:11px;font-weight:700;color:#333333;">30 Days</div>
<div class="t" style="left:-225.85px;width:600px;text-align:center;top:655.23px;font-size:10.6px;line-height:10.6px;font-weight:400;color:#333333;">$1,180.26</div>
<div class="t" style="left:-106.70px;width:600px;text-align:center;top:638.79px;font-size:11px;line-height:11px;font-weight:700;color:#333333;">60 Days</div>
<div class="t" style="left:-106.70px;width:600px;text-align:center;top:655.23px;font-size:10.6px;line-height:10.6px;font-weight:400;color:#333333;">$2,348.57</div>
<div class="t" style="left:13.85px;width:600px;text-align:center;top:638.79px;font-size:11px;line-height:11px;font-weight:700;color:#333333;">90 Days</div>
<div class="t" style="left:13.85px;width:600px;text-align:center;top:655.23px;font-size:10.6px;line-height:10.6px;font-weight:400;color:#333333;">$3,910.88</div>
<div class="t" style="left:139.70px;width:600px;text-align:center;top:638.79px;font-size:11px;line-height:11px;font-weight:700;color:#333333;">1 Year</div>
<div class="t" style="left:139.70px;width:600px;text-align:center;top:655.23px;font-size:10.6px;line-height:10.6px;font-weight:400;color:#333333;">$14,898.56</div>
<div class="r" style="left:527.00px;top:598.70px;width:490.00px;height:78.30px;background:#ffffff;border:1px solid #eaecef;box-sizing:border-box;"></div>
<div class="r" style="left:527.00px;top:598.70px;width:490.00px;height:28.80px;background:#eceef1;"></div>
<div class="t" style="left:533.30px;top:608.96px;font-size:10.8px;line-height:10.8px;font-weight:400;color:#555a60;">Affiliate Recurring Forecast <span class="info"></span></div>
<div class="r" style="left:646.00px;top:627.50px;width:1.00px;height:48.50px;background:#e6e8eb;"></div>
<div class="r" style="left:766.10px;top:627.50px;width:1.00px;height:48.50px;background:#e6e8eb;"></div>
<div class="r" style="left:885.60px;top:627.50px;width:1.00px;height:48.50px;background:#e6e8eb;"></div>
<div class="t" style="left:286.75px;width:600px;text-align:center;top:638.79px;font-size:11px;line-height:11px;font-weight:700;color:#333333;">30 Days</div>
<div class="t" style="left:286.75px;width:600px;text-align:center;top:655.23px;font-size:10.6px;line-height:10.6px;font-weight:400;color:#333333;">$130.73</div>
<div class="t" style="left:406.55px;width:600px;text-align:center;top:638.79px;font-size:11px;line-height:11px;font-weight:700;color:#333333;">60 Days</div>
<div class="t" style="left:406.55px;width:600px;text-align:center;top:655.23px;font-size:10.6px;line-height:10.6px;font-weight:400;color:#333333;">$336.45</div>
<div class="t" style="left:526.35px;width:600px;text-align:center;top:638.79px;font-size:11px;line-height:11px;font-weight:700;color:#333333;">90 Days</div>
<div class="t" style="left:526.35px;width:600px;text-align:center;top:655.23px;font-size:10.6px;line-height:10.6px;font-weight:400;color:#333333;">$418.67</div>
<div class="t" style="left:651.55px;width:600px;text-align:center;top:638.79px;font-size:11px;line-height:11px;font-weight:700;color:#333333;">1 Year</div>
<div class="t" style="left:651.55px;width:600px;text-align:center;top:655.23px;font-size:10.6px;line-height:10.6px;font-weight:400;color:#333333;">$1,223.37</div></body></html>
